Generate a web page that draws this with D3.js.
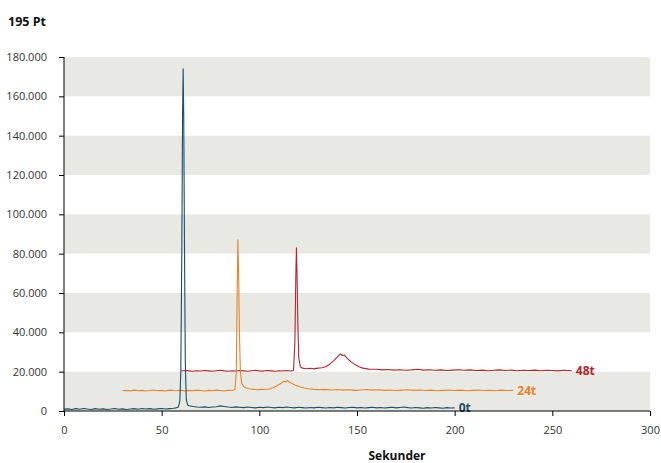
<!DOCTYPE html>
<html>
<head>
<meta charset="utf-8">
<script src="https://cdn.jsdelivr.net/npm/d3@7"></script>
<style>
  body { margin: 0; background: #fff; font-family: "Open Sans", sans-serif; }
  .tick text { fill: #333; font-size: 11px; font-family: "Open Sans", sans-serif; }
</style>
</head>
<body>
<script>
// data (seconds, counts)
const xTicks = [0, 50, 100, 150, 200, 250, 300];
const yTicks = [0, 20000, 40000, 60000, 80000, 100000, 120000, 140000, 160000, 180000];
const bandStarts = [0, 40000, 80000, 120000, 160000];

const series0t = [[0,900],[2,1100],[4,800],[6,1200],[8,900],[10,1300],[12,1000],[14,800],[16,1200],[18,900],
  [20,1100],[22,800],[24,1000],[26,1300],[28,900],[30,1100],[32,800],[34,1000],[36,1200],[38,900],
  [40,1300],[42,1000],[44,1200],[46,900],[48,1100],[50,1300],[52,1000],[54,1200],[56,1400],[57.5,1600],
  [58.5,2000],[59.3,5000],[59.8,20000],[60.3,80000],[60.7,150000],[61.0,174000],[61.3,150000],[61.7,80000],
  [62.1,25000],[62.6,6000],[63.2,3200],[64,2700],[66,2300],[68,2000],[70,1900],[72,2100],[74,1800],[76,2000],
  [78,2200],[80,2600],[82,2300],[84,2000],[86,1800],[88,2100],[90,1900],[92,1700],[94,2000],[96,1800],
  [98,1600],[100,1900],[102,1700],[104,2000],[106,1800],[108,1600],[110,1900],[112,1700],[114,2000],[116,1800],
  [118,1600],[120,1900],[122,1700],[124,1500],[126,1800],[128,1600],[130,1900],[132,1700],[134,1500],[136,1800],
  [138,1600],[140,1900],[142,1700],[144,1500],[146,1800],[148,1900],[150,1600],[152,1800],[154,1500],[156,1700],
  [158,1900],[160,1600],[162,1800],[164,1500],[166,1700],[168,1900],[170,1600],[172,1800],[174,2000],[176,1700],
  [178,1500],[180,1800],[182,1600],[184,1400],[186,1700],[188,1500],[190,1800],[192,1600],[194,1400],[196,1700],
  [198,1500],[200,1600]];

const series24t = [[30,10300],[32,10500],[34,10200],[36,10600],[38,10300],[40,10500],[42,10200],[44,10400],
  [46,10700],[48,10300],[50,10500],[52,10200],[54,10600],[56,10400],[58,10300],[60,10600],[62,10200],[64,10500],
  [66,10300],[68,10600],[70,10400],[72,10200],[74,10500],[76,10300],[78,10600],[80,10400],[82,10200],[84,10500],
  [86,10400],[87.5,10800],[88.2,20000],[88.6,55000],[89.0,87000],[89.4,70000],[89.8,40000],[90.3,20000],
  [91,14000],[92,12500],[93,11800],[95,11300],[97,11000],[99,10800],[101,11000],[103,10900],[105,11200],
  [107,11800],[109,12800],[111,14000],[112.5,15200],[113.5,14800],[114.5,15500],[115.5,14600],[117,13800],
  [119,12900],[121,12200],[123,11700],[125,11300],[128,11000],[131,10800],[134,11000],[137,10700],[140,10900],
  [143,10600],[146,10800],[149,10500],[152,10700],[155,10900],[158,10600],[161,10800],[164,10500],[167,10700],
  [170,10400],[173,10600],[176,10800],[179,10500],[182,10700],[185,10400],[188,10600],[191,10300],[194,10500],
  [197,10700],[200,10400],[203,10600],[206,10300],[209,10500],[212,10700],[215,10400],[218,10500],[221,10300],
  [224,10600],[227,10400],[230,10500]];

const series48t = [[60,20300],[62,20600],[64,20400],[66,20200],[68,20500],[70,20300],[72,20600],[74,20400],
  [76,20200],[78,20500],[80,20700],[82,20400],[84,20200],[86,20500],[88,20300],[90,20600],[92,20400],[94,20200],
  [96,20500],[98,20700],[100,20400],[102,20300],[104,20600],[106,20400],[108,20200],[110,20500],[112,20300],
  [114,20600],[116,20300],[117.5,20600],[118.2,35000],[118.7,70000],[119.0,83000],[119.3,70000],[119.7,45000],
  [120.2,27000],[121,22500],[122,21800],[124,21500],[126,21700],[128,21400],[130,21800],[132,22000],[134,22500],
  [136,23800],[138,25500],[140,27500],[141.5,29000],[142.5,28200],[143.5,28500],[145,26800],[147,25000],
  [149,23600],[151,22500],[153,21800],[156,21300],[160,21200],[163,20900],[166,21100],[169,20800],[172,21000],
  [175,20700],[178,20900],[181,21200],[184,20800],[187,21000],[190,20700],[193,20900],[196,20600],[199,20800],
  [202,21000],[205,20700],[208,20900],[211,20600],[214,20800],[217,20500],[220,20700],[223,20900],[226,20600],
  [229,20800],[232,20500],[235,20700],[238,20600],[241,20800],[244,20500],[247,20700],[250,20600],[253,20400],
  [256,20700],[260,20500]];

const seriesList = [
  { name: "48t", data: series48t, color: "#b3252f" },
  { name: "24t", data: series24t, color: "#e9822c" },
  { name: "0t", data: series0t, color: "#1b4d6c" }
];

const W = 661, H = 463;
const margin = { top: 57, right: 11, bottom: 52, left: 64 };
const width = W - margin.left - margin.right,
      height = H - margin.top - margin.bottom;

const svg = d3.select("body").append("svg")
  .attr("width", W).attr("height", H);

const g = svg.append("g")
  .attr("transform", `translate(${margin.left},${margin.top})`);

const x = d3.scaleLinear().domain([0, 300]).range([0, width]);
const y = d3.scaleLinear().domain([0, 180000]).range([height, 0]);

// grey bands
g.selectAll("rect.band")
  .data(bandStarts)
  .enter().append("rect")
  .attr("class", "band")
  .attr("x", 0)
  .attr("width", width)
  .attr("y", d => y(d + 20000))
  .attr("height", d => y(d) - y(d + 20000))
  .attr("fill", "#e9e9e4");

const locale = d3.formatLocale({ decimal: ",", thousands: ".", grouping: [3], currency: ["", ""] });
const fmt = locale.format(",");

// lines
const line = d3.line()
  .x(d => x(d[0]))
  .y(d => y(d[1]));

seriesList.forEach(s => {
  g.append("path")
    .datum(s.data)
    .attr("fill", "none")
    .attr("stroke", s.color)
    .attr("stroke-width", 1.1)
    .attr("stroke-linejoin", "round")
    .attr("d", line);

  const last = s.data[s.data.length - 1];
  g.append("text")
    .attr("x", x(last[0]) + 4)
    .attr("y", y(last[1]))
    .attr("dy", "0.35em")
    .attr("fill", s.color)
    .style("font-size", "12px")
    .style("font-weight", "bold")
    .text(s.name);
});

// axes
const yAxis = g.append("g")
  .call(d3.axisLeft(y).tickValues(yTicks).tickFormat(fmt).tickSize(5).tickPadding(12));
const xAxis = g.append("g")
  .attr("transform", `translate(0,${height})`)
  .call(d3.axisBottom(x).tickValues(xTicks).tickSize(5).tickPadding(10));

[xAxis, yAxis].forEach(a => {
  a.select(".domain").attr("stroke", "#000");
  a.selectAll(".tick line").attr("stroke", "#000");
});
yAxis.select(".domain").attr("d", `M0,0V${height}`);
xAxis.select(".domain").attr("d", `M0,0H${width}`);

// titles
svg.append("text")
  .attr("x", 8).attr("y", 26)
  .style("font-size", "12.5px")
  .style("font-weight", "bold")
  .attr("fill", "#111")
  .text("195 Pt");

svg.append("text")
  .attr("x", 397).attr("y", 460)
  .attr("text-anchor", "middle")
  .style("font-size", "12px")
  .style("font-weight", "bold")
  .attr("fill", "#111")
  .text("Sekunder");
</script>
</body>
</html>
